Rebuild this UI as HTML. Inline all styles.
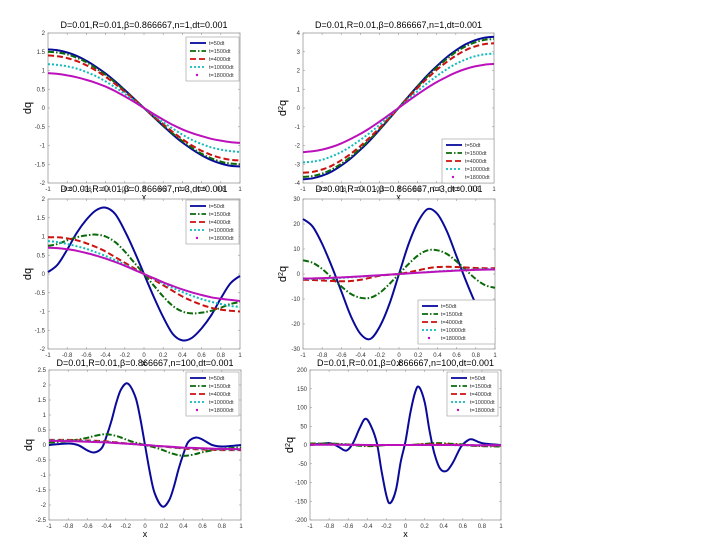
<!DOCTYPE html>
<html><head><meta charset="utf-8"><style>
body{margin:0;background:#fff;}
svg{display:block;font-family:"Liberation Sans",sans-serif;}
</style></head><body>
<svg id="fig" width="720" height="540" viewBox="0 0 720 540"></svg>
<script>
// ---- data ----
const xs20 = [-1,-0.9,-0.8,-0.7,-0.6,-0.5,-0.4,-0.3,-0.2,-0.1,0,0.1,0.2,0.3,0.4,0.5,0.6,0.7,0.8,0.9,1];
const seriesNames = ["t=50dt","t=1500dt","t=4000dt","t=10000dt","t=18000dt"];
// panel 1 (n=1, dq)
const p1Blue = [1.56,1.54,1.48,1.39,1.26,1.10,0.92,0.71,0.48,0.24,0,-0.24,-0.48,-0.71,-0.92,-1.10,-1.26,-1.39,-1.48,-1.54,-1.56];
const p1Green = [1.50,1.48,1.43,1.34,1.22,1.06,0.88,0.68,0.46,0.23,0,-0.23,-0.46,-0.68,-0.88,-1.06,-1.22,-1.34,-1.43,-1.48,-1.50];
const p1Red = [1.40,1.38,1.33,1.25,1.14,1.00,0.83,0.64,0.43,0.22,0,-0.22,-0.43,-0.64,-0.83,-1.00,-1.14,-1.25,-1.33,-1.38,-1.40];
const p1Cyan = [1.17,1.15,1.11,1.05,0.96,0.85,0.71,0.55,0.38,0.19,0,-0.19,-0.38,-0.55,-0.71,-0.85,-0.96,-1.05,-1.11,-1.15,-1.17];
const p1Mag = [0.93,0.91,0.87,0.82,0.75,0.67,0.57,0.45,0.31,0.16,0,-0.16,-0.31,-0.45,-0.57,-0.67,-0.75,-0.82,-0.87,-0.91,-0.93];
// panel 2 (n=1, d2q)
const p2Blue = [-3.80,-3.75,-3.61,-3.39,-3.07,-2.69,-2.23,-1.73,-1.17,-0.59,0,0.59,1.17,1.73,2.23,2.69,3.07,3.39,3.61,3.75,3.80];
const p2Green = [-3.68,-3.63,-3.50,-3.28,-2.98,-2.60,-2.16,-1.67,-1.14,-0.57,0,0.57,1.14,1.67,2.16,2.60,2.98,3.28,3.50,3.63,3.68];
const p2Red = [-3.45,-3.41,-3.28,-3.08,-2.79,-2.44,-2.03,-1.57,-1.07,-0.54,0,0.54,1.07,1.57,2.03,2.44,2.79,3.08,3.28,3.41,3.45];
const p2Cyan = [-2.90,-2.86,-2.76,-2.58,-2.35,-2.05,-1.70,-1.32,-0.90,-0.45,0,0.45,0.90,1.32,1.70,2.05,2.35,2.58,2.76,2.86,2.90];
const p2Mag = [-2.35,-2.31,-2.22,-2.08,-1.89,-1.65,-1.38,-1.07,-0.73,-0.37,0,0.37,0.73,1.07,1.38,1.65,1.89,2.08,2.22,2.31,2.35];
// panel 3 (n=3, dq)
const p3Blue = [0.05,0.25,0.65,1.10,1.45,1.70,1.77,1.60,1.15,0.60,0,-0.60,-1.15,-1.60,-1.77,-1.70,-1.45,-1.10,-0.65,-0.25,-0.05];
const p3Green = [0.75,0.80,0.90,0.98,1.03,1.05,1.00,0.85,0.60,0.30,0,-0.30,-0.60,-0.85,-1.00,-1.05,-1.03,-0.98,-0.90,-0.80,-0.75];
const p3Red = [0.98,0.98,0.95,0.90,0.82,0.72,0.60,0.45,0.30,0.15,0,-0.15,-0.30,-0.45,-0.60,-0.72,-0.82,-0.90,-0.95,-0.98,-1.00];
const p3Cyan = [0.88,0.85,0.80,0.74,0.67,0.58,0.48,0.37,0.25,0.12,0,-0.12,-0.25,-0.37,-0.48,-0.58,-0.67,-0.74,-0.80,-0.85,-0.88];
const p3Mag = [0.70,0.69,0.66,0.62,0.56,0.49,0.41,0.32,0.22,0.11,0,-0.11,-0.22,-0.32,-0.41,-0.49,-0.56,-0.62,-0.66,-0.69,-0.72];
// panel 4 (n=3, d2q)
const p4Blue = [22,19,12,3,-7,-17,-24,-26,-21,-12,0,12,21,26,24,17,7,-3,-12,-19,-22];
const p4Green = [5.5,4.5,2,-1.5,-5,-8,-9.5,-9.5,-7.5,-4,0,4,7.5,9.5,9.5,8,5,1.5,-2,-4.5,-5.5];
const p4Red = [-2.3,-2.4,-2.6,-2.8,-2.9,-2.8,-2.3,-1.5,-0.7,-0.3,0,0.7,1.5,2.3,2.8,2.9,2.8,2.6,2.4,2.3,2.3];
const p4Cyan = [-2.0,-1.95,-1.85,-1.7,-1.5,-1.3,-1.05,-0.8,-0.55,-0.27,0,0.27,0.55,0.8,1.05,1.3,1.5,1.7,1.85,1.95,2.0];
const p4Mag = [-1.8,-1.75,-1.65,-1.5,-1.35,-1.15,-0.95,-0.72,-0.48,-0.24,0,0.24,0.48,0.72,0.95,1.15,1.35,1.5,1.65,1.75,1.8];
// panel 5 (n=100, dq)
const xs5 = [-1,-0.8,-0.7,-0.6,-0.53,-0.45,-0.4,-0.35,-0.3,-0.25,-0.18,-0.1,-0.05,0,0.05,0.1,0.18,0.25,0.3,0.35,0.4,0.45,0.53,0.6,0.7,0.8,1];
const p5Blue = [0,0.05,0,-0.18,-0.25,-0.1,0.3,0.8,1.4,1.85,2.05,1.6,0.9,0,-0.9,-1.6,-2.05,-1.85,-1.4,-0.8,-0.3,0.1,0.25,0.18,0,-0.05,0];
const p5Green = [0.08,0.13,0.18,0.24,0.3,0.35,0.36,0.34,0.3,0.25,0.16,0.08,0.04,0,-0.04,-0.08,-0.16,-0.25,-0.3,-0.34,-0.36,-0.35,-0.3,-0.24,-0.18,-0.13,-0.08];
const p5Red = [0.17,0.17,0.16,0.15,0.14,0.13,0.12,0.1,0.09,0.07,0.05,0.03,0.015,0,-0.015,-0.03,-0.05,-0.07,-0.09,-0.1,-0.12,-0.13,-0.14,-0.15,-0.16,-0.17,-0.17];
const p5Cyan = [0.16,0.15,0.14,0.13,0.12,0.11,0.1,0.09,0.08,0.06,0.045,0.025,0.012,0,-0.012,-0.025,-0.045,-0.06,-0.08,-0.09,-0.1,-0.11,-0.12,-0.13,-0.14,-0.15,-0.16];
const p5Mag = [0.14,0.13,0.12,0.11,0.1,0.09,0.085,0.075,0.065,0.055,0.04,0.022,0.011,0,-0.011,-0.022,-0.04,-0.055,-0.065,-0.075,-0.085,-0.09,-0.1,-0.11,-0.12,-0.13,-0.14];
// panel 6 (n=100, d2q)
const xs6 = [-1,-0.8,-0.7,-0.62,-0.55,-0.48,-0.42,-0.36,-0.3,-0.25,-0.2,-0.16,-0.1,-0.05,0,0.05,0.1,0.14,0.2,0.25,0.3,0.36,0.43,0.5,0.58,0.65,0.7,0.8,1];
const p6Blue = [0,5,-5,-15,5,45,70,50,5,-70,-135,-155,-120,-45,10,85,140,155,115,40,-20,-62,-69,-45,-5,12,15,5,0];
const p6Green = [4,4,3,2,0,-2,-3,-3,-2,-1,0,0,0,0,0,0,1,2,3,4,5,5,4,3,2,0,-2,-3,-4];
const p6Red = [2,2,1.5,1,0.5,0,-0.5,-1,-1,-0.5,0,0,0,0,0,0,0.5,1,1.5,2,2,2,1.5,1,0.5,0,-1,-2,-2];
const p6Cyan = [1,1,1,0.8,0.6,0.4,0.2,0,0,0,0,0,0,0,0,0,0,0,0,0,0,0,0,-0.2,-0.4,-0.6,-0.8,-1,-1];
const p6Mag = [0.5,0.5,0.5,0.4,0.3,0.2,0.1,0,0,0,0,0,0,0,0,0,0,0,0,0,0,0,0,-0.1,-0.2,-0.3,-0.4,-0.5,-0.5];
// tick labels
const xTicks = [-1,-0.8,-0.6,-0.4,-0.2,0,0.2,0.4,0.6,0.8,1];
const yTicks1 = [-2,-1.5,-1,-0.5,0,0.5,1,1.5,2];
const yTicks2 = [-4,-3,-2,-1,0,1,2,3,4];
const yTicks4 = [-30,-20,-10,0,10,20,30];
const yTicks5 = [-2.5,-2,-1.5,-1,-0.5,0,0.5,1,1.5,2,2.5];
const yTicks6 = [-200,-150,-100,-50,0,50,100,150,200];

const NS="http://www.w3.org/2000/svg";
const svg=document.getElementById('fig');
function mk(tag,attrs,parent){const e=document.createElementNS(NS,tag);for(const k in attrs)e.setAttribute(k,attrs[k]);(parent||svg).appendChild(e);return e;}
const styles=[
 {c:"#0a0a9a",w:2,d:""},
 {c:"#0a6a0a",w:2,d:"6,2,1.5,2"},
 {c:"#cc1111",w:2,d:"6,3"},
 {c:"#11bbbb",w:2,d:"2,2"},
 {c:"#bb11bb",w:2,d:""}
];
function path(pts){
 let d="M"+pts[0][0].toFixed(1)+","+pts[0][1].toFixed(1);
 for(let i=0;i<pts.length-1;i++){
  const p0=pts[Math.max(0,i-1)],p1=pts[i],p2=pts[i+1],p3=pts[Math.min(pts.length-1,i+2)];
  const c1=[p1[0]+(p2[0]-p0[0])/6,p1[1]+(p2[1]-p0[1])/6];
  const c2=[p2[0]-(p3[0]-p1[0])/6,p2[1]-(p3[1]-p1[1])/6];
  d+=" C"+c1[0].toFixed(1)+","+c1[1].toFixed(1)+" "+c2[0].toFixed(1)+","+c2[1].toFixed(1)+" "+p2[0].toFixed(1)+","+p2[1].toFixed(1);
 }
 return d;
}
function panel(cfg){
 const g=mk('g',{});
 
 
 const L=cfg.x0,R=cfg.x1,T=cfg.y0,B=cfg.y1;
 const ymin=cfg.yt[0],ymax=cfg.yt[cfg.yt.length-1];
 const sx=v=>L+(v+1)/2*(R-L);
 const sy=v=>B-(v-ymin)/(ymax-ymin)*(B-T);
 const frame=mk('rect',{x:L,y:T,width:R-L,height:B-T,fill:"#fff",stroke:"#999","stroke-width":0.8},g);
 
 
 xTicks.forEach(t=>{
  const x=sx(t);
  mk('line',{x1:x,x2:x,y1:B,y2:B-2,stroke:"#999","stroke-width":0.6},g);
  mk('line',{x1:x,x2:x,y1:T,y2:T+2,stroke:"#999","stroke-width":0.6},g);
  const tl=mk('text',{x:x,y:B+8,"font-size":6,"text-anchor":"middle",fill:"#333"},g);
  tl.textContent=t;
  
  
 });
 cfg.yt.forEach(t=>{
  const y=sy(t);
  mk('line',{x1:L,x2:L+2,y1:y,y2:y,stroke:"#999","stroke-width":0.6},g);
  mk('line',{x1:R,x2:R-2,y1:y,y2:y,stroke:"#999","stroke-width":0.6},g);
  const tl=mk('text',{x:L-3,y:y+2,"font-size":6,"text-anchor":"end",fill:"#333"},g);
  tl.textContent=t;
  
  
 });
 cfg.series.forEach((vals,i)=>{
  const pts=cfg.xs.map((x,j)=>[sx(x),sy(vals[j])]);
  const st=styles[i];
  const p=mk('path',{d:path(pts),fill:"none",stroke:st.c,"stroke-width":st.w,"stroke-dasharray":st.d},g);
  
  
 });
 const yl=mk('text',{x:0,y:0,"font-size":11,"text-anchor":"middle",fill:"#000",transform:"translate("+(L-17)+","+((T+B)/2)+") rotate(-90)"},g);
 yl.innerHTML=cfg.ylab;
 
 
 const xl=mk('text',{x:(L+R)/2,y:B+17,"font-size":9,"text-anchor":"middle",fill:"#000"},g);
 xl.textContent="x";
 
 
 const tt=mk('text',{x:(L+R)/2,y:cfg.ty,"font-size":9,"text-anchor":"middle",fill:"#000"},g);
 tt.textContent="D=0.01,R=0.01,\u03b2=0.866667,n="+cfg.n+",dt=0.001";
 
 
 // legend
 const lg=mk('g',{},g);
 
 
 const lx=cfg.lx,ly=cfg.ly,lw=cfg.lw;
 mk('rect',{x:lx,y:ly,width:lw,height:44,fill:"#fff",stroke:"#999","stroke-width":0.6},lg);
 seriesNames.forEach((nm,i)=>{
  const y=ly+6+i*8;
  const st=styles[i];
  if(i===4){mk('circle',{cx:lx+11,cy:y,r:1.2,fill:st.c},lg);}
  else mk('line',{x1:lx+4,x2:lx+20,y1:y,y2:y,stroke:st.c,"stroke-width":1.8,"stroke-dasharray":st.d},lg);
  const t=mk('text',{x:lx+23,y:y+2,"font-size":5.5,fill:"#333"},lg);
  t.textContent=nm;
  
  
 });
}
const dq="dq", d2q='d<tspan baseline-shift="super" font-size="7">2</tspan>q';
panel({name:"panel-n1-dq",x0:48,x1:240,y0:33,y1:183,yt:yTicks1,xs:xs20,series:[p1Blue,p1Green,p1Red,p1Cyan,p1Mag],ylab:dq,n:1,ty:28,lx:186,ly:37,lw:53});
panel({name:"panel-n1-d2q",x0:303,x1:494,y0:33,y1:183,yt:yTicks2,xs:xs20,series:[p2Blue,p2Green,p2Red,p2Cyan,p2Mag],ylab:d2q,n:1,ty:28,lx:442,ly:139,lw:52});
panel({name:"panel-n3-dq",x0:48,x1:240,y0:199,y1:349,yt:yTicks1,xs:xs20,series:[p3Blue,p3Green,p3Red,p3Cyan,p3Mag],ylab:dq,n:3,ty:192,lx:186,ly:200,lw:53});
panel({name:"panel-n3-d2q",x0:303,x1:495,y0:199,y1:349,yt:yTicks4,xs:xs20,series:[p4Blue,p4Green,p4Red,p4Cyan,p4Mag],ylab:d2q,n:3,ty:192,lx:418,ly:300,lw:77});
panel({name:"panel-n100-dq",x0:49,x1:241,y0:370,y1:520,yt:yTicks5,xs:xs5,series:[p5Blue,p5Green,p5Red,p5Cyan,p5Mag],ylab:dq,n:100,ty:366,lx:186,ly:372,lw:53});
panel({name:"panel-n100-d2q",x0:310,x1:501,y0:370,y1:520,yt:yTicks6,xs:xs6,series:[p6Blue,p6Green,p6Red,p6Cyan,p6Mag],ylab:d2q,n:100,ty:366,lx:447,ly:372,lw:51});
</script>
</body></html>
